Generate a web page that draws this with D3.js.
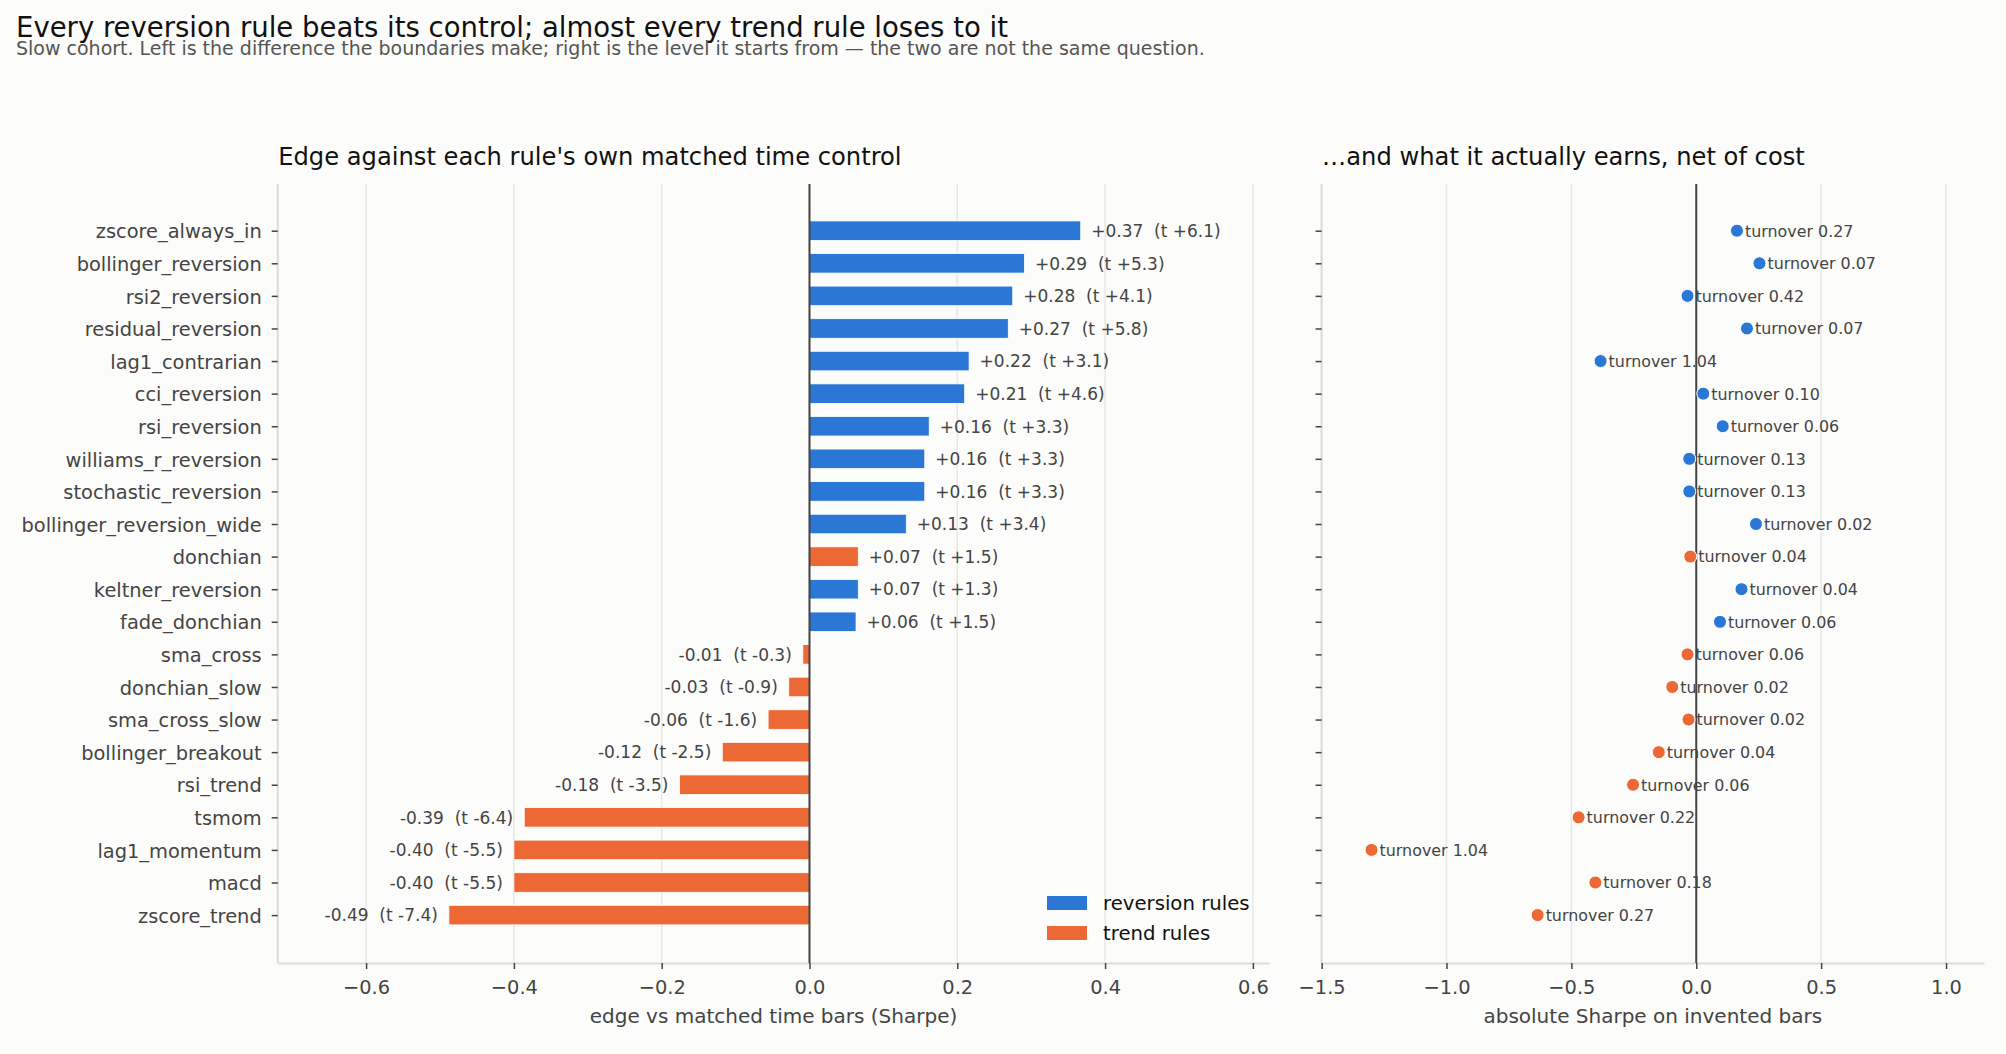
<!DOCTYPE html>
<html>
<head>
<meta charset="utf-8">
<script src="https://cdn.jsdelivr.net/npm/d3@7/dist/d3.min.js"></script>
<style>
  html, body { margin: 0; padding: 0; background: #fcfcfa; }
  svg { display: block; font-family: "DejaVu Sans", sans-serif; }
</style>
</head>
<body>
<svg id="chart" width="2006" height="1054"></svg>
<script>
// ---------------- data ----------------
const rules = ["zscore_always_in","bollinger_reversion","rsi2_reversion","residual_reversion",
  "lag1_contrarian","cci_reversion","rsi_reversion","williams_r_reversion","stochastic_reversion",
  "bollinger_reversion_wide","donchian","keltner_reversion","fade_donchian","sma_cross",
  "donchian_slow","sma_cross_slow","bollinger_breakout","rsi_trend","tsmom","lag1_momentum",
  "macd","zscore_trend"];
const families = ["reversion","reversion","reversion","reversion","reversion","reversion","reversion",
  "reversion","reversion","reversion","trend","reversion","reversion","trend","trend","trend","trend",
  "trend","trend","trend","trend","trend"];
const edge = [0.367, 0.291, 0.275, 0.269, 0.216, 0.210, 0.162, 0.156, 0.156, 0.131, 0.066, 0.066,
  0.063, -0.009, -0.028, -0.056, -0.118, -0.176, -0.386, -0.400, -0.400, -0.488];
const tstat = [6.1, 5.3, 4.1, 5.8, 3.1, 4.6, 3.3, 3.3, 3.3, 3.4, 1.5, 1.3, 1.5, -0.3, -0.9, -1.6,
  -2.5, -3.5, -6.4, -5.5, -5.5, -7.4];
const sharpe = [0.163, 0.253, -0.035, 0.203, -0.383, 0.028, 0.106, -0.028, -0.028, 0.239, -0.024,
  0.181, 0.095, -0.035, -0.096, -0.031, -0.150, -0.253, -0.471, -1.300, -0.404, -0.635];
const turnover = [0.27, 0.07, 0.42, 0.07, 1.04, 0.10, 0.06, 0.13, 0.13, 0.02, 0.04, 0.04, 0.06,
  0.06, 0.02, 0.02, 0.04, 0.06, 0.22, 1.04, 0.18, 0.27];
const edgeTicks = [-0.6, -0.4, -0.2, 0.0, 0.2, 0.4, 0.6];
const sharpeTicks = [-1.5, -1.0, -0.5, 0.0, 0.5, 1.0];
const legendLabels = ["reversion rules", "trend rules"];

const title = "Every reversion rule beats its control; almost every trend rule loses to it";
const subtitle = "Slow cohort. Left is the difference the boundaries make; right is the level it starts from \u2014 the two are not the same question.";
const leftTitle = "Edge against each rule's own matched time control";
const rightTitle = "\u2026and what it actually earns, net of cost";
const leftXLabel = "edge vs matched time bars (Sharpe)";
const rightXLabel = "absolute Sharpe on invented bars";

// ---------------- style ----------------
const colors = { reversion: "#2a77d5", trend: "#ec6835" };
const C = { text: "#111111", sub: "#555555", tick: "#444444", spine: "#dcdcdc", grid: "#e8e8e8", zero: "#444444" };

const data = rules.map((r, i) => ({ rule: r, i, fam: families[i], edge: edge[i], t: tstat[i], sharpe: sharpe[i], turn: turnover[i] }));

const svg = d3.select("#chart");
svg.append("rect").attr("width", 2006).attr("height", 1054).attr("fill", "#fcfcfa");

const yTop = 184, yBot = 963;
const y = d3.scaleLinear().domain([-1.433, 22.47]).range([yTop, yBot]);
const barH = (y(1) - y(0)) * 0.6;

const xL = d3.scaleLinear().domain([-0.7196, 0.6222]).range([277.7, 1269.3]);
const xR = d3.scaleLinear().domain([-1.5, 1.152]).range([1321.6, 1984]);

const sgn = v => (v >= 0 ? "+" : "-") ;
const fmtEdge = d => `${sgn(d.edge)}${Math.abs(d.edge).toFixed(2)}\u00a0\u00a0(t ${sgn(d.t)}${Math.abs(d.t).toFixed(1)})`;

// ---------------- titles ----------------
svg.append("text").attr("x", 16).attr("y", 36.5).attr("font-size", 27.5).attr("fill", C.text).text(title);
svg.append("text").attr("x", 16).attr("y", 55).attr("font-size", 19).attr("fill", C.sub).text(subtitle);

function panel(x, ticks, xlab, ptitle) {
  const g = svg.append("g");
  g.append("g").selectAll("line").data(ticks).join("line")
    .attr("x1", d => x(d)).attr("x2", d => x(d)).attr("y1", yTop).attr("y2", yBot)
    .attr("stroke", C.grid).attr("stroke-width", 1.5);
  const ax = g.append("g").attr("transform", `translate(0,${yBot})`)
    .call(d3.axisBottom(x).tickValues(ticks).tickFormat(d3.format(".1f")).tickSize(6).tickSizeOuter(0).tickPadding(11));
  ax.select(".domain").attr("stroke", C.spine).attr("stroke-width", 2);
  ax.selectAll(".tick line").attr("stroke", C.tick).attr("stroke-width", 1.5);
  ax.selectAll(".tick text").attr("font-size", 19.4).attr("fill", C.tick).attr("font-family", "DejaVu Sans");
  g.append("text").attr("x", (x.range()[0] + x.range()[1]) / 2).attr("y", 1023)
    .attr("text-anchor", "middle").attr("font-size", 20).attr("fill", C.tick).text(xlab);
  g.append("text").attr("x", x.range()[0] + 0.5).attr("y", 165).attr("font-size", 24.2).attr("fill", C.text).text(ptitle);
  return g;
}

// ---------------- left panel ----------------
const gL = panel(xL, edgeTicks, leftXLabel, leftTitle);
const yAxL = gL.append("g").attr("transform", `translate(${xL.range()[0]},0)`)
  .call(d3.axisLeft(y).tickValues(d3.range(rules.length)).tickFormat(i => rules[i]).tickSize(6).tickSizeOuter(0).tickPadding(10));
yAxL.select(".domain").attr("d", `M0,${yTop}V${yBot}`).attr("stroke", C.spine).attr("stroke-width", 2);
yAxL.selectAll(".tick line").attr("stroke", C.tick).attr("stroke-width", 1.5);
yAxL.selectAll(".tick text").attr("font-size", 19.4).attr("fill", C.tick).attr("font-family", "DejaVu Sans").attr("dy", "0.37em");

gL.append("g").selectAll("rect").data(data).join("rect")
  .attr("x", d => Math.min(xL(0), xL(d.edge)))
  .attr("width", d => Math.abs(xL(d.edge) - xL(0)))
  .attr("y", d => y(d.i) - barH / 2).attr("height", barH)
  .attr("fill", d => colors[d.fam]).attr("stroke", "#ffffff").attr("stroke-width", 0.8);

gL.append("line").attr("x1", xL(0)).attr("x2", xL(0)).attr("y1", yTop).attr("y2", yBot)
  .attr("stroke", C.zero).attr("stroke-width", 2);

gL.append("g").selectAll("text").data(data).join("text")
  .attr("x", d => d.edge >= 0 ? xL(d.edge) + 10.5 : xL(d.edge) - 11)
  .attr("y", d => y(d.i)).attr("dy", "0.37em")
  .attr("text-anchor", d => d.edge >= 0 ? "start" : "end")
  .attr("font-size", 17).attr("fill", C.tick).text(fmtEdge);

const leg = gL.append("g");
legendLabels.forEach((lab, k) => {
  const fam = k === 0 ? "reversion" : "trend";
  leg.append("rect").attr("x", 1047).attr("y", 896 + k * 30).attr("width", 40).attr("height", 14).attr("fill", colors[fam]);
  leg.append("text").attr("x", 1103).attr("y", 903 + k * 30).attr("dy", "0.37em")
    .attr("font-size", 19.7).attr("fill", "#111").text(lab);
});

// ---------------- right panel ----------------
const gR = panel(xR, sharpeTicks, rightXLabel, rightTitle);
const yAxR = gR.append("g").attr("transform", `translate(${xR.range()[0]},0)`)
  .call(d3.axisLeft(y).tickValues(d3.range(rules.length)).tickFormat("").tickSize(6).tickSizeOuter(0));
yAxR.select(".domain").attr("d", `M0,${yTop}V${yBot}`).attr("stroke", C.spine).attr("stroke-width", 2);
yAxR.selectAll(".tick line").attr("stroke", C.tick).attr("stroke-width", 1.5);

gR.append("line").attr("x1", xR(0)).attr("x2", xR(0)).attr("y1", yTop).attr("y2", yBot)
  .attr("stroke", C.zero).attr("stroke-width", 2);

gR.append("g").selectAll("circle").data(data).join("circle")
  .attr("cx", d => xR(d.sharpe)).attr("cy", d => y(d.i)).attr("r", 6.5)
  .attr("fill", d => colors[d.fam]).attr("stroke", "#ffffff").attr("stroke-width", 1);

gR.append("g").selectAll("text").data(data).join("text")
  .attr("x", d => xR(d.sharpe) + 8).attr("y", d => y(d.i)).attr("dy", "0.37em")
  .attr("font-size", 15.9).attr("fill", C.tick).text(d => `turnover ${d.turn.toFixed(2)}`);
</script>
</body>
</html>
